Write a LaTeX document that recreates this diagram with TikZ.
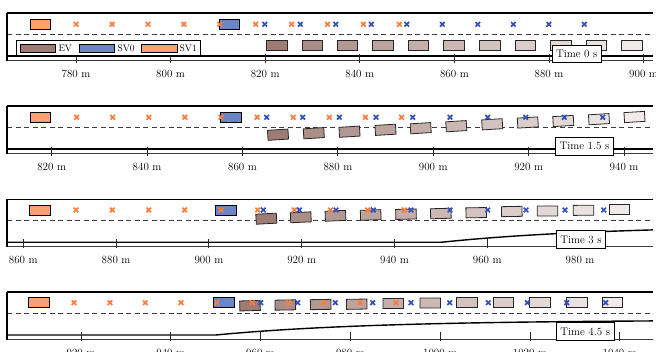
\documentclass[tikz,border=0pt]{standalone}
\usepackage{tikz}
\definecolor{evc}{RGB}{158,124,117}
\definecolor{svzero}{RGB}{108,132,200}
\definecolor{svone}{RGB}{255,160,112}
\definecolor{omk}{RGB}{255,125,60}
\definecolor{bmk}{RGB}{50,80,185}
\definecolor{roadgray}{RGB}{60,60,60}
\begin{document}
\begin{tikzpicture}[x=1pt,y=-1pt,
  edge/.style={black,line width=1.4pt},
  lowline/.style={roadgray,line width=1pt},
  laneline/.style={roadgray,line width=1pt,dash pattern=on 5pt off 3.5pt},
  tickmark/.style={black!85,line width=0.9pt},
  ticklab/.style={font=\fontsize{11}{13}\selectfont,inner sep=0pt},
  vbox/.style={draw=black,line width=0.8pt,minimum width=20.5pt,minimum height=10pt,inner sep=0pt},
  evbox/.style={vbox,draw=black!85},
  omark/.style={omk,line width=1.7pt},
  bmark/.style={bmk,line width=1.7pt},
  timelab/.style={draw=black,fill=white,line width=0.6pt,inner xsep=4pt,inner ysep=5pt,font=\fontsize{11}{13}\selectfont,anchor=west},
  legsw/.style={draw=black,line width=0.8pt,minimum width=35.5pt,minimum height=8pt,inner sep=0pt},
  leglab/.style={font=\fontsize{9.5}{11}\selectfont,inner sep=0pt,anchor=west}
]
\useasboundingbox (0,0) rectangle (656,352);

% ---------- road frames ----------
\foreach \T in {13,106,199.3,292}{
  \draw[edge] (7,\T) -- (653,\T);
  \draw[laneline] (7,\T+21.5) -- (653,\T+21.5);
  \draw[lowline] (7,\T+47.5) -- (653,\T+47.5);
  \draw[edge] (7,\T) -- (7,\T+48);
}
% bottom boundaries
\draw[edge] (7,56) -- (653,56);
\draw[edge] (7,149) -- (653,149);
\draw[edge] (7,242.3) -- (440.9,242.3)
  plot[domain=0:45.7,samples=40,smooth] ({440.9+4.64*\x},{242.3-17*(1-exp(-\x/35))});
\draw[edge] (7,335) -- (215.7,335)
  plot[domain=0:97.4,samples=60,smooth] ({215.7+4.49*\x},{335-15*(1-exp(-\x/35))});

% ---------- ticks and labels ----------
\foreach \m in {780,800,...,900}{
  \draw[tickmark] ({76+(\m-780)*4.73},54.3) -- ++(0,8.4);
  \node[ticklab] (l1-\m) at ({76+(\m-780)*4.73},74) {\m{} m};
}
\foreach \m in {820,840,...,940}{
  \draw[tickmark] ({51.7+(\m-820)*4.77},147.3) -- ++(0,8.4);
  \node[ticklab] (l2-\m) at ({51.7+(\m-820)*4.77},166.5) {\m{} m};
}
\foreach \m in {860,880,...,980}{
  \draw[tickmark] ({23.3+(\m-860)*4.64},239.3) -- ++(0,8.4);
  \node[ticklab] (l3-\m) at ({23.3+(\m-860)*4.64},260) {\m{} m};
}
\foreach \m in {920,940,...,1040}{
  \draw[tickmark] ({81+(\m-920)*4.49},332.3) -- ++(0,8.4);
  \node[ticklab] (l4-\m) at ({81+(\m-920)*4.49},353) {\m{} m};
}

% ---------- EV boxes ----------
% panel 1
\foreach \x/\p [count=\i] in {277/100,312.3/86,347.5/78,383/70,418.5/62,454/54,489.7/46,525.2/38,560.7/30,596.2/22,631.7/15}{
  \node[evbox,fill=evc!\p!white] (ev1-\i) at (\x,45.7) {};
}
% panel 2
\foreach \x/\y/\p [count=\i] in {278/134.7/100,313.8/133.2/86,349.5/131.7/78,385.5/129.8/70,420.7/128.2/62,456.3/126.2/54,492.2/124.3/46,527.8/122.5/38,563.3/121/30,599/119.2/22,634.5/117/15}{
  \node[evbox,fill=evc!\p!white,rotate=3.5] (ev2-\i) at (\x,\y) {};
}
% panel 3
\foreach \x/\y/\r/\p [count=\i] in {266.3/218.7/3/100,300.8/217.3/2.5/86,335.5/215.8/2.5/78,370.7/215/2/70,406/214.2/1.5/62,440.8/213.5/1.5/54,476.2/212.7/1/46,511.8/211.5/1/38,547.5/211/0.5/30,583.5/210.3/0.5/22,619.3/209.8/0/15}{
  \node[evbox,fill=evc!\p!white,rotate=\r] (ev3-\i) at (\x,\y) {};
}
% panel 4
\foreach \x/\y/\r/\p [count=\i] in {250/305.7/1.5/100,285.3/305/1/86,320.7/304.5/1/78,356.7/304.2/1/70,393.3/303.5/0.5/62,430.3/303/0.5/54,466.8/302.7/0/46,503.3/302.5/0/38,540/302.3/0/30,576.7/302.3/0/22,612.5/302.3/0/15}{
  \node[evbox,fill=evc!\p!white,rotate=\r] (ev4-\i) at (\x,\y) {};
}

% ---------- SV boxes ----------
\node[vbox,fill=svone] (sv1a) at (40.3,24.3) {};
\node[vbox,fill=svzero] (sv0a) at (229.3,24.3) {};
\node[vbox,fill=svone] (sv1b) at (40.5,117.3) {};
\node[vbox,fill=svzero] (sv0b) at (231,117.3) {};
\node[vbox,fill=svone] (sv1c) at (39.7,210) {};
\node[vbox,fill=svzero] (sv0c) at (225.7,210) {};
\node[vbox,fill=svone] (sv1d) at (38.7,302.7) {};
\node[vbox,fill=svzero] (sv0d) at (223.7,302.7) {};

% ---------- predicted positions (crosses) ----------
\foreach \x in {76.2,112.1,148,183.9,219.8,255.7,291.6,327.5,363.4,399.3}{
  \draw[omark] (\x-2.3,22) -- (\x+2.3,26.6) (\x-2.3,26.6) -- (\x+2.3,22);}
\foreach \x in {264.8,300.3,335.8,371.3,406.8,442.3,477.8,513.3,548.8,584.3}{
  \draw[bmark] (\x-2.3,22) -- (\x+2.3,26.6) (\x-2.3,26.6) -- (\x+2.3,22);}

\foreach \x in {76.6,112.7,148.8,184.9,221,257.1,293.2,329.3,365.4,401.5}{
  \draw[omark] (\x-2.3,115) -- (\x+2.3,119.6) (\x-2.3,119.6) -- (\x+2.3,115);}
\foreach \x in {266.7,302.7,339.3,376,412.7,450,487.7,525.7,564.3,602.7}{
  \draw[bmark] (\x-2.3,115) -- (\x+2.3,119.6) (\x-2.3,119.6) -- (\x+2.3,115);}

\foreach \x in {76,112.3,148.7,184.7,221,257.7,294.3,330.5,367.7,404.3}{
  \draw[omark] (\x-2.3,207.7) -- (\x+2.3,212.3) (\x-2.3,212.3) -- (\x+2.3,207.7);}
\foreach \x in {263.3,299.3,336,373.3,411,450,487.7,526,565,603.7}{
  \draw[bmark] (\x-2.3,207.7) -- (\x+2.3,212.3) (\x-2.3,212.3) -- (\x+2.3,207.7);}

\foreach \x in {74,110,145.3,181,216.7,252.3,288.3,324,360,396}{
  \draw[omark] (\x-2.3,300.4) -- (\x+2.3,305) (\x-2.3,305) -- (\x+2.3,300.4);}
\foreach \x in {260.7,297.7,335.3,372.7,411,449.7,488.3,527.3,566.7,605.7}{
  \draw[bmark] (\x-2.3,300.4) -- (\x+2.3,305) (\x-2.3,305) -- (\x+2.3,300.4);}

% ---------- legend ----------
\draw[black,line width=0.8pt,fill=white] (16.7,40) rectangle (200.7,55);
\node[legsw,fill=evc] (legev) at (37.8,48.3) {};
\node[leglab] (legevt) at (58.3,48.3) {EV};
\node[legsw,fill=svzero] (legsv0) at (96.7,48.3) {};
\node[leglab] (legsv0t) at (117.3,48.3) {SV0};
\node[legsw,fill=svone] (legsv1) at (159.2,48.3) {};
\node[leglab] (legsv1t) at (179.5,48.3) {SV1};

% ---------- time labels ----------
\node[timelab] (t1) at (551.7,53.8) {Time 0 s};
\node[timelab] (t2) at (555.3,146.3) {Time 1.5 s};
\node[timelab] (t3) at (556,239.5) {Time 3 s};
\node[timelab] (t4) at (556,331.5) {Time 4.5 s};
\end{tikzpicture}
\end{document}
